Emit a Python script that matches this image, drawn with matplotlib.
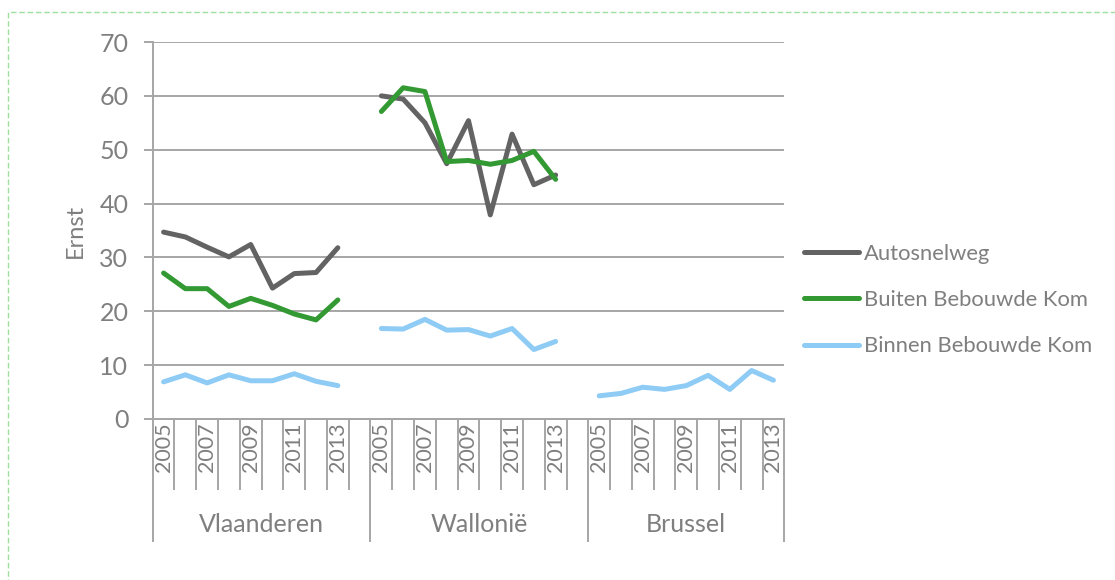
import matplotlib
matplotlib.use('Agg')
import matplotlib.pyplot as plt
from matplotlib.patches import Rectangle
from matplotlib.transforms import blended_transform_factory

plt.rcParams['font.family'] = ['Lato', 'DejaVu Sans']

# data
regions = ['Vlaanderen', 'Wallonië', 'Brussel']
years = ['2005', '2006', '2007', '2008', '2009', '2010', '2011', '2012', '2013']

autosnelweg = {
    'Vlaanderen': [34.7, 33.8, 31.9, 30.1, 32.4, 24.3, 27.0, 27.2, 31.8],
    'Wallonië': [60.0, 59.4, 55.0, 47.4, 55.4, 37.9, 52.9, 43.5, 45.3],
}
buiten = {
    'Vlaanderen': [27.1, 24.2, 24.2, 20.9, 22.4, 21.1, 19.5, 18.4, 22.1],
    'Wallonië': [57.1, 61.5, 60.8, 47.8, 48.0, 47.3, 48.0, 49.7, 44.5],
}
binnen = {
    'Vlaanderen': [6.9, 8.2, 6.7, 8.2, 7.1, 7.1, 8.4, 7.0, 6.2],
    'Wallonië': [16.8, 16.7, 18.5, 16.5, 16.6, 15.4, 16.8, 12.9, 14.4],
    'Brussel': [4.3, 4.75, 5.9, 5.5, 6.2, 8.1, 5.5, 9.0, 7.2],
}
# Vlaanderen and Wallonië carry one empty category after 2013
region_slots = {'Vlaanderen': years + [''], 'Wallonië': years + [''], 'Brussel': years}

series = [
    ('Autosnelweg', autosnelweg, '#636363'),
    ('Buiten Bebouwde Kom', buiten, '#339933'),
    ('Binnen Bebouwde Kom', binnen, '#8ecbf5'),
]

grey = '#a6a6a6'
txt = '#7f7f7f'

fig = plt.figure(figsize=(11.15, 5.8), dpi=100)
ax = fig.add_axes([152.7 / 1115, 1 - 419 / 580, (784.3 - 152.7) / 1115, (419 - 42) / 580])

# slot offsets per region
offsets = {}
start = 0
for r in regions:
    offsets[r] = start
    start += len(region_slots[r])
nslots = start

for name, data, col in series:
    first = True
    for r in regions:
        if r not in data:
            continue
        xs = [offsets[r] + i + 0.5 for i in range(len(data[r]))]
        ax.plot(xs, data[r], color=col, lw=3.6, solid_capstyle='round', solid_joinstyle='round',
                label=name if first else None)
        first = False

ax.set_xlim(0, nslots)
ax.set_ylim(0, 70)
ax.set_yticks(range(0, 71, 10))
ax.yaxis.grid(True, color=grey, lw=1.4)
ax.set_axisbelow(True)
for s in ['top', 'right']:
    ax.spines[s].set_visible(False)
ax.spines['left'].set_color(grey)
ax.spines['bottom'].set_color(grey)
ax.spines['left'].set_linewidth(1.4)
ax.spines['bottom'].set_linewidth(1.4)
ax.tick_params(axis='y', colors=grey, length=6.5, width=1.4, labelcolor=txt, labelsize=18, pad=11)

# category axis: short ticks between slots, long ones between regions
bounds = [offsets[r] for r in regions] + [nslots]
ax.set_xticks(bounds)
ax.set_xticks([i for i in range(nslots + 1) if i not in bounds], minor=True)
ax.set_xticklabels([])
ax.tick_params(axis='x', which='major', length=88.5, width=1.4, color=grey)
ax.tick_params(axis='x', which='minor', length=51, width=1.4, color=grey)

tr = blended_transform_factory(ax.transData, ax.transAxes)
h = 377.0
for r in regions:
    for i, lab in enumerate(region_slots[r]):
        if i % 2 == 0 and lab:
            ax.text(offsets[r] + i + 0.5, -28 / h, lab, transform=tr, rotation=90,
                    ha='center', va='center', color=txt, fontsize=15.5)
    ax.text(offsets[r] + len(region_slots[r]) / 2, -106 / h, r, transform=tr,
            ha='center', va='center', color=txt, fontsize=18)

ax.set_ylabel('Ernst', color=txt, fontsize=17, labelpad=10)

ax.legend(loc='center left', bbox_to_anchor=(804 / 1115, 1 - 300 / 580), bbox_transform=fig.transFigure,
          frameon=False, fontsize=15.8, handlelength=2.5, handletextpad=0.25, labelspacing=1.2,
          borderaxespad=0, borderpad=0, labelcolor=txt)

# dashed chart border
fig.patches.append(Rectangle((8 / 1115, -0.1), 1.2, 1.1 - 12 / 580, transform=fig.transFigure,
                             fill=False, ec='#9ee09e', lw=1, ls=(0, (4, 2))))

fig.savefig('out.png', dpi=100)
